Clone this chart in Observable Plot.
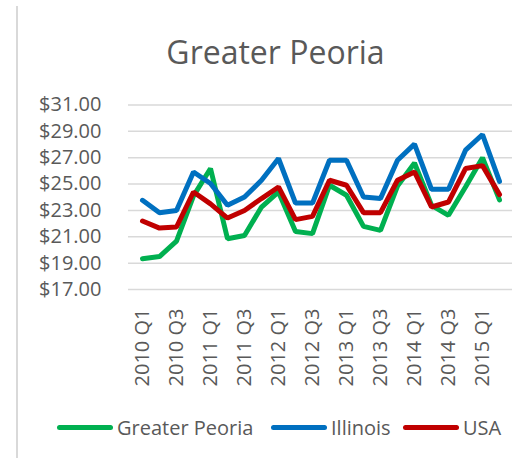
<!DOCTYPE html>
<html>
<head>
<meta charset="utf-8">
<script src="https://cdn.jsdelivr.net/npm/d3@7"></script>
<script src="https://cdn.jsdelivr.net/npm/@observablehq/plot@0.6"></script>
<style>
  html, body { margin: 0; padding: 0; background: #fff; }
  #chart { position: relative; width: 529px; height: 458px; overflow: hidden; background: #fff; font-family: "Open Sans", sans-serif; }
  #border { position: absolute; left: 16px; top: 6px; width: 2px; height: 460px; background: #d9d9d9; }
  #title { margin: 0; padding: 36px 0 0 22px; height: 44px; line-height: 32px; font-size: 32px; color: #595959; text-align: center; font-weight: 400; }
  #plot svg { display: block; }
  #legend { position: relative; height: 58px; }
  .item { position: absolute; top: 0; height: 54px; display: flex; align-items: center; font-size: 20px; color: #595959; }
  .sw { display: inline-block; width: 56px; height: 5px; border-radius: 3px; margin-right: 4px; }
</style>
</head>
<body>
<div id="chart">
  <div id="border"></div>
  <div id="title">Greater Peoria</div>
  <div id="plot"></div>
  <div id="legend"></div>
</div>
<script>
const quarters = ["2010 Q1","2010 Q2","2010 Q3","2010 Q4","2011 Q1","2011 Q2","2011 Q3","2011 Q4",
  "2012 Q1","2012 Q2","2012 Q3","2012 Q4","2013 Q1","2013 Q2","2013 Q3","2013 Q4",
  "2014 Q1","2014 Q2","2014 Q3","2014 Q4","2015 Q1","2015 Q2"];
const greaterPeoria = [19.33, 19.5, 20.67, 24.1, 26.18, 20.85, 21.1, 23.26, 24.4, 21.4, 21.24, 24.91,
  24.15, 21.79, 21.49, 24.85, 26.6, 23.39, 22.63, 24.78, 27.0, 23.8];
const illinois = [23.77, 22.83, 23.0, 25.92, 25.04, 23.39, 24.02, 25.29, 26.94, 23.56, 23.56, 26.81,
  26.81, 24.02, 23.9, 26.81, 28.03, 24.6, 24.6, 27.57, 28.76, 25.2];
const usa = [22.2, 21.66, 21.74, 24.4, 23.5, 22.42, 23.0, 23.9, 24.78, 22.3, 22.55, 25.29,
  24.91, 22.83, 22.83, 25.29, 25.92, 23.26, 23.64, 26.18, 26.4, 24.2];
const seriesNames = ["Greater Peoria", "Illinois", "USA"];
const seriesColors = ["#00b050", "#0070c0", "#c00000"];
const yTicks = [17, 19, 21, 23, 25, 27, 29, 31];
const xTickLabels = ["2010 Q1","2010 Q3","2011 Q1","2011 Q3","2012 Q1","2012 Q3","2013 Q1","2013 Q3","2014 Q1","2014 Q3","2015 Q1"];

const seriesValues = [greaterPeoria, illinois, usa];
const data = [];
seriesNames.forEach((s, si) => {
  quarters.forEach((q, i) => data.push({series: s, quarter: q, value: seriesValues[si][i]}));
});

const plot = Plot.plot({
  width: 529,
  height: 320,
  marginTop: 24.5,
  marginBottom: 111,
  marginLeft: 128,
  marginRight: 17,
  style: {fontFamily: "'Open Sans', sans-serif", fontSize: "20px", color: "#595959", background: "transparent"},
  x: {type: "point", domain: quarters, padding: 0.5},
  y: {domain: [17, 31]},
  color: {domain: seriesNames, range: seriesColors},
  marks: [
    Plot.gridY(yTicks, {stroke: "#d9d9d9", strokeOpacity: 1, strokeWidth: 1.5}),
    Plot.axisY(yTicks, {tickSize: 0, tickPadding: 27, tickFormat: d3.format("$.2f"), label: null, fill: "#595959", fontSize: 20}),
    Plot.axisX(xTickLabels, {tickSize: 0, tickPadding: 19, tickRotate: -90, label: null, fill: "#595959", fontSize: 20}),
    Plot.line(data, {x: "quarter", y: "value", z: "series", stroke: "series", strokeWidth: 5, strokeLinecap: "round", strokeLinejoin: "miter"})
  ]
});
document.getElementById("plot").appendChild(plot);

const legend = document.getElementById("legend");
const lefts = [57, 271, 403];
seriesNames.forEach((s, i) => {
  const item = document.createElement("div");
  item.className = "item";
  item.style.left = lefts[i] + "px";
  const sw = document.createElement("span");
  sw.className = "sw";
  sw.style.background = seriesColors[i];
  item.appendChild(sw);
  item.appendChild(document.createTextNode(s));
  legend.appendChild(item);
});
</script>
</body>
</html>
